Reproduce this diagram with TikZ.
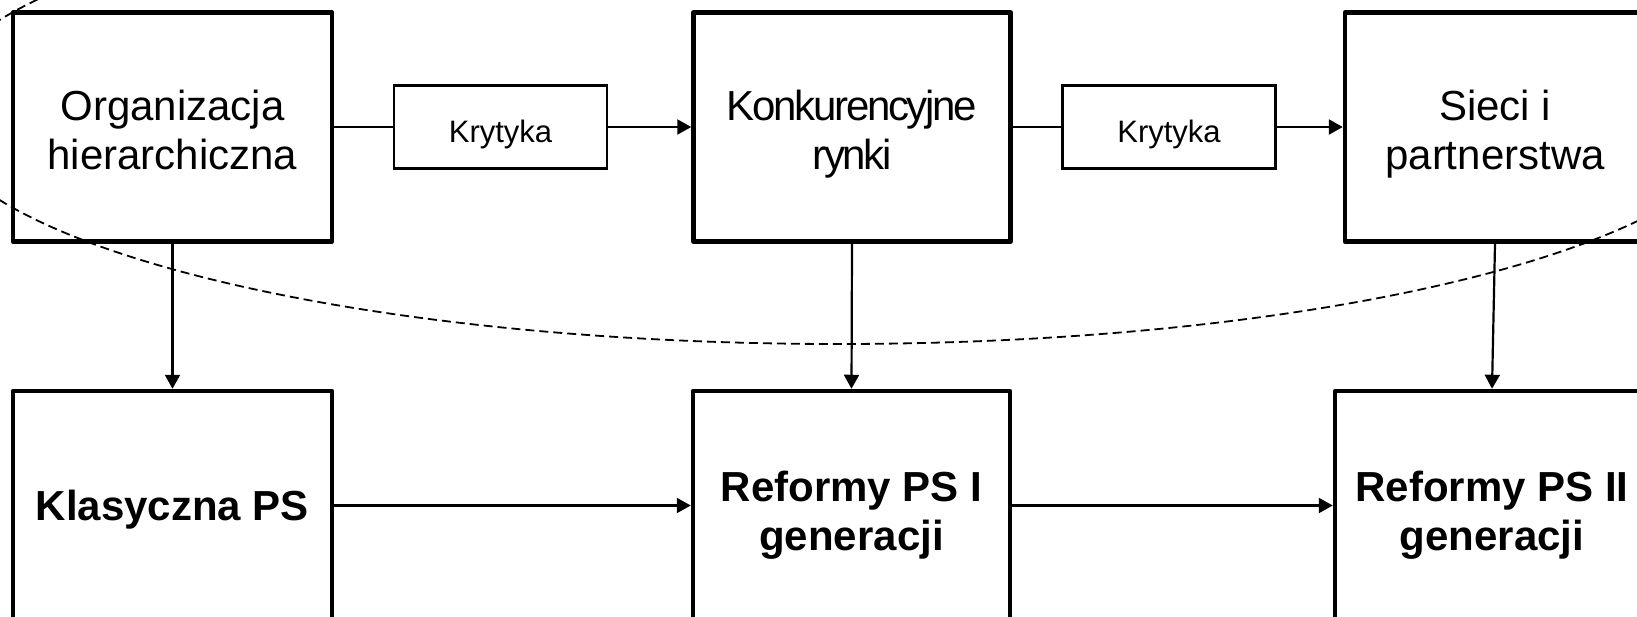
\documentclass[tikz,border=0pt]{standalone}
\usepackage{fontspec}
\setmainfont{Liberation Sans}
\usetikzlibrary{arrows.meta}
\newcommand\wst{\rule[-0.18em]{0pt}{1.085em}}
\newcommand\tst[1]{\rule[-0.18em]{0pt}{#1}}
\tikzset{
  bigbox/.style={draw, line width=4.5pt, line join=round, inner sep=0pt,
    minimum height=229pt, align=center, font=\fontsize{42}{49}\selectfont},
  boldbox/.style={bigbox, font=\fontsize{42}{49}\selectfont\bfseries},
  critbox/.style={draw, line width=2.2pt, inner sep=0pt, minimum width=213pt,
    minimum height=83pt, font=\fontsize{31}{36}\selectfont},
  conn/.style={line width=2.2pt},
  arr/.style={line width=2.2pt, -{Triangle[length=14pt,width=15pt]}},
  scopeline/.style={dashed, dash pattern=on 9pt off 5pt, line width=1.8pt}
}
\begin{document}
\begin{tikzpicture}[x=1pt,y=-1pt]
\useasboundingbox (0,0) rectangle (1637,616);
\clip (0,0) rectangle (1637,616);
\fill[white] (0,0) rectangle (1637,616);
% top row
\node[bigbox, minimum width=319pt] (org) at (172.5,127) {\tst{1.23em}Organizacja\\\wst hierarchiczna};
\node[bigbox, minimum width=317pt] (kon) at (852,127) {\addfontfeatures{LetterSpace=-5.5}\tst{1.23em}Konkurencyjne\\\addfontfeatures{LetterSpace=-5.5}\wst rynki};
\node[bigbox, minimum width=300pt] (sie) at (1495,127) {\tst{1.23em}Sieci i\\\wst partnerstwa};
\node[critbox] (kr1) at (500.5,127) {\tst{1.41em}Krytyka};
\node[critbox] (kr2) at (1169,127) {\tst{1.41em}Krytyka};
% bottom row
\node[boldbox, minimum width=319pt] (kla) at (172.5,505.5) {\wst Klasyczna PS};
\node[boldbox, minimum width=317pt] (ref1) at (851.5,505.5) {\tst{1.37em}Reformy PS I\\\wst generacji};
\node[boldbox, minimum width=314pt] (ref2) at (1492,505.5) {\tst{1.37em}Reformy PS II\\\wst generacji};
% connectors
\draw[conn] (org.east) -- (kr1.west);
\draw[arr] (kr1.east) -- (kon.west);
\draw[conn] (kon.east) -- (kr2.west);
\draw[arr] (kr2.east) -- (sie.west);
\draw[arr] (org.south) -- (kla.north);
\draw[arr] (kon.south) -- (ref1.north);
\draw[arr] (sie.south) -- (ref2.north);
\draw[arr] (kla.east) -- (ref1.west);
\draw[arr] (ref1.east) -- (ref2.west);
% dashed ellipse
\draw[scopeline] (838,110) ellipse [x radius=908pt, y radius=234pt];
\end{tikzpicture}
\end{document}
